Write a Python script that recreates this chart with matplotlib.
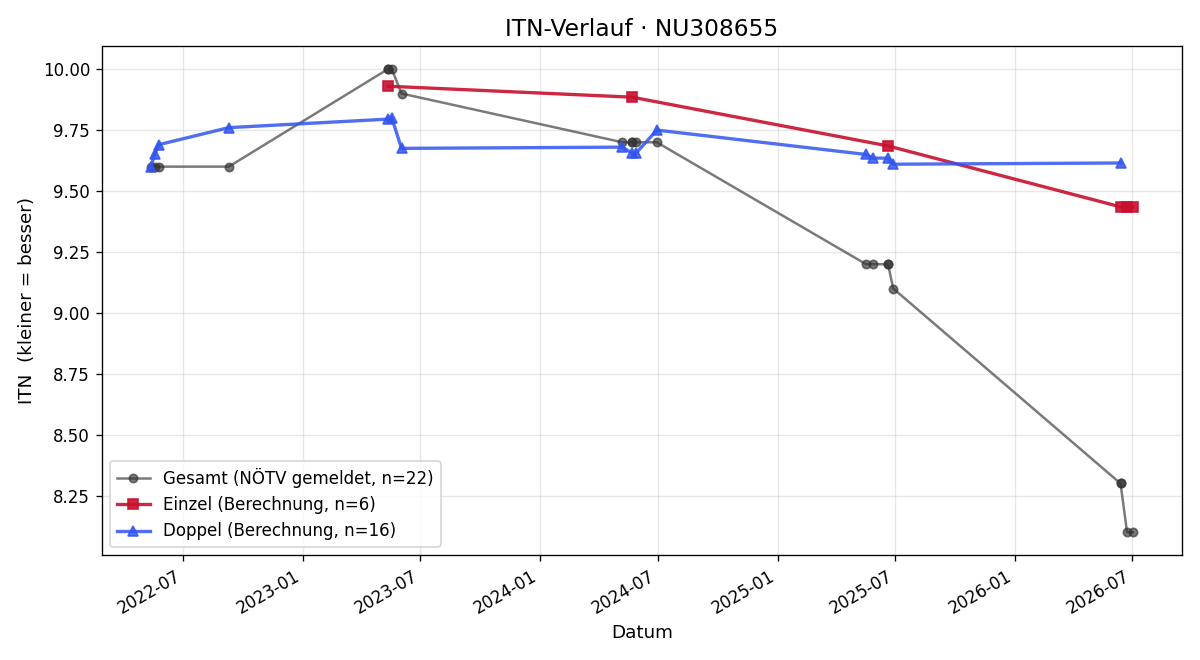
import numpy as np
import pandas as pd
import matplotlib
matplotlib.use('Agg')
import matplotlib.pyplot as plt
import matplotlib.dates as mdates

# Gesamt (NÖTV gemeldet)
gesamt_dates = ['2022-05-12', '2022-05-18', '2022-05-24', '2022-09-09',
                '2023-05-12', '2023-05-12', '2023-05-18', '2023-06-02',
                '2024-05-07', '2024-05-22', '2024-05-22', '2024-05-28',
                '2024-06-29', '2025-05-17', '2025-05-28', '2025-06-20',
                '2025-06-20', '2025-06-28', '2026-06-13', '2026-06-13',
                '2026-06-23', '2026-07-02']
gesamt_vals = [9.60, 9.60, 9.60, 9.60,
               10.00, 10.00, 10.00, 9.90,
               9.70, 9.70, 9.70, 9.70,
               9.70, 9.20, 9.20, 9.20,
               9.20, 9.10, 8.30, 8.30,
               8.10, 8.10]

# Einzel (Berechnung)
einzel_dates = ['2023-05-12', '2024-05-22', '2025-06-20',
                '2026-06-13', '2026-06-23', '2026-07-02']
einzel_vals = [9.93, 9.885, 9.685, 9.435, 9.435, 9.435]

# Doppel (Berechnung)
doppel_dates = ['2022-05-12', '2022-05-18', '2022-05-24', '2022-09-09',
                '2023-05-12', '2023-05-18', '2023-06-02', '2024-05-07',
                '2024-05-22', '2024-05-28', '2024-06-29', '2025-05-17',
                '2025-05-28', '2025-06-20', '2025-06-28', '2026-06-13']
doppel_vals = [9.60, 9.65, 9.69, 9.76,
               9.795, 9.80, 9.675, 9.68,
               9.655, 9.655, 9.75, 9.65,
               9.635, 9.635, 9.61, 9.615]


def main():
    fig, ax = plt.subplots(figsize=(10, 5.5), dpi=120)

    ax.plot(pd.to_datetime(gesamt_dates), gesamt_vals,
            color='#333333', alpha=0.65, lw=1.5, marker='o', ms=5,
            label=f'Gesamt (NÖTV gemeldet, n={len(gesamt_vals)})')
    ax.plot(pd.to_datetime(einzel_dates), einzel_vals,
            color='#c8102e', alpha=0.9, lw=2, marker='s', ms=6,
            label=f'Einzel (Berechnung, n={len(einzel_vals)})')
    ax.plot(pd.to_datetime(doppel_dates), doppel_vals,
            color='#3355ee', alpha=0.85, lw=2, marker='^', ms=6,
            label=f'Doppel (Berechnung, n={len(doppel_vals)})')

    ax.set_title('ITN-Verlauf · NU308655', fontsize=14)
    ax.set_xlabel('Datum', fontsize=11)
    ax.set_ylabel('ITN  (kleiner = besser)', fontsize=11)
    ax.xaxis.set_major_locator(mdates.MonthLocator(bymonth=[1, 7]))
    ax.xaxis.set_major_formatter(mdates.DateFormatter('%Y-%m'))
    ax.yaxis.set_major_formatter(plt.FormatStrFormatter('%.2f'))
    ax.grid(True, alpha=0.3)
    ax.legend(loc='lower left')
    fig.autofmt_xdate()

    fig.tight_layout()
    fig.savefig('out.png')


if __name__ == '__main__':
    main()
